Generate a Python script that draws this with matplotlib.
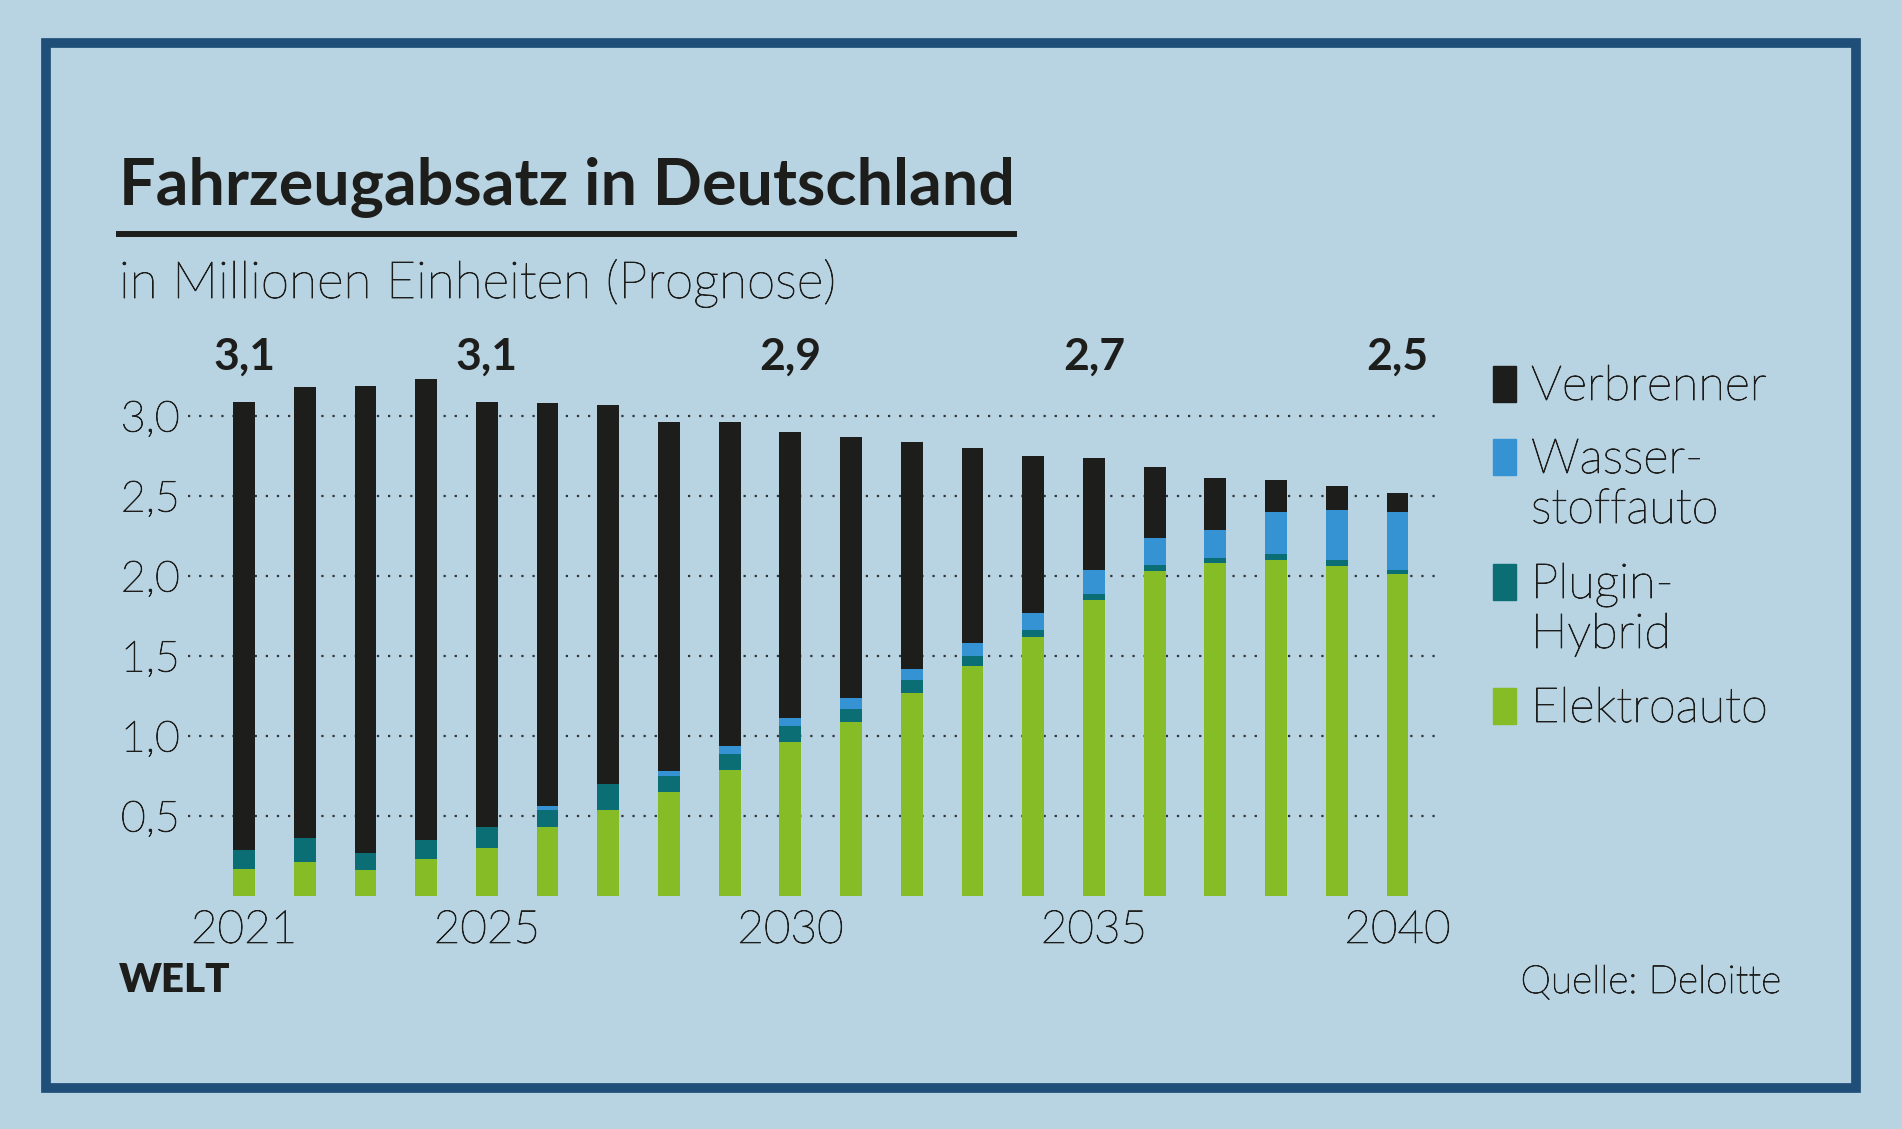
import matplotlib.pyplot as plt
import matplotlib.patheffects as pe
from matplotlib.patches import Rectangle
from matplotlib.lines import Line2D
import numpy as np

# Fahrzeugabsatz in Deutschland, Mio. Einheiten (Prognose, Deloitte)
years = list(range(2021, 2041))
elektro = [0.17, 0.21, 0.16, 0.23, 0.30, 0.43, 0.54, 0.65, 0.79, 0.96,
           1.09, 1.27, 1.44, 1.62, 1.85, 2.03, 2.08, 2.10, 2.06, 2.01]
plugin = [0.12, 0.15, 0.11, 0.12, 0.13, 0.11, 0.16, 0.10, 0.10, 0.10,
          0.08, 0.08, 0.06, 0.04, 0.035, 0.04, 0.03, 0.04, 0.04, 0.03]
wasser = [0.0, 0.0, 0.0, 0.0, 0.0, 0.02, 0.0, 0.03, 0.05, 0.05,
          0.07, 0.07, 0.08, 0.11, 0.15, 0.17, 0.18, 0.26, 0.31, 0.36]
verbrenner = [2.80, 2.82, 2.92, 2.88, 2.66, 2.52, 2.37, 2.18, 2.02, 1.79,
              1.63, 1.42, 1.22, 0.98, 0.70, 0.44, 0.32, 0.20, 0.15, 0.12]

label_years = [2021, 2025, 2030, 2035, 2040]
total_labels = ["3,1", "3,1", "2,9", "2,7", "2,5"]
y_ticks = [0.5, 1.0, 1.5, 2.0, 2.5, 3.0]
y_ticklabels = ["0,5", "1,0", "1,5", "2,0", "2,5", "3,0"]
legend_labels = ["Verbrenner", "Wasser-\nstoffauto", "Plugin-\nHybrid", "Elektroauto"]

bg = "#b8d3e1"
frame = "#1f4e78"
ink = "#1d1d1b"
c_verb = "#1d1d1b"
c_wass = "#3592d3"
c_plug = "#0b6e75"
c_elek = "#86bc25"

plt.rcParams['font.family'] = ['Lato', 'DejaVu Sans']

# light font, thickened a little
thin = dict(fontweight='light', color=ink,
            path_effects=[pe.withStroke(linewidth=0.6, foreground=ink)])

W, H = 1902, 1129
fig = plt.figure(figsize=(W / 100, H / 100), dpi=100, facecolor=bg)


def fx(px):
    return px / W


def fy(py):
    return 1 - py / H


# frame
fig.add_artist(Rectangle((fx(46), fy(1088)), fx(1856) - fx(46), fy(43) - fy(1088),
                         transform=fig.transFigure, fill=False,
                         edgecolor=frame, linewidth=7))

ax = fig.add_axes([fx(188), fy(896), fx(1443) - fx(188), (896 - 352) / H])
ax.set_facecolor('none')
x = np.arange(len(years))
bottom = np.zeros(len(years))
for vals, col in zip([elektro, plugin, wasser, verbrenner], [c_elek, c_plug, c_wass, c_verb]):
    ax.bar(x, vals, width=0.36, bottom=bottom, color=col, linewidth=0, zorder=3)
    bottom += np.array(vals)

ax.set_xlim(-0.923, 19.75)
ax.set_ylim(0, 3.4)
for s in ax.spines.values():
    s.set_visible(False)

ax.set_yticks(y_ticks)
ax.set_yticklabels(y_ticklabels, fontsize=31, **thin)
ax.yaxis.grid(True, linestyle=(0, (1, 4)), color='#333333', linewidth=1.6)
ax.set_axisbelow(True)
ax.tick_params(axis='y', length=0, pad=6)

tick_pos = [years.index(y) for y in label_years]
ax.set_xticks(tick_pos)
ax.set_xticklabels([str(y) for y in label_years], fontsize=33, **thin)
ax.tick_params(axis='x', length=0, pad=10)

for p, lab in zip(tick_pos, total_labels):
    ax.text(p, 3.29, lab, ha='center', va='baseline', fontsize=32,
            fontweight='bold', color=ink)

# title block
fig.text(fx(119), fy(205), "Fahrzeugabsatz in Deutschland", fontsize=46.5,
         fontweight='bold', color=ink, va='baseline')
fig.add_artist(Line2D([fx(119), fx(1014)], [fy(234), fy(234)], color=ink,
                      linewidth=4.3, transform=fig.transFigure))
fig.text(fx(119), fy(298), "in Millionen Einheiten (Prognose)", fontsize=37,
         va='baseline', **thin)

# legend
leg_base = [400, 473, 598, 722]
for lab, col, base in zip(legend_labels, [c_verb, c_wass, c_plug, c_elek], leg_base):
    fig.add_artist(Rectangle((fx(1493), fy(base + 2)), fx(23), 36 / H,
                             transform=fig.transFigure, color=col))
    for k, line in enumerate(lab.split("\n")):
        fig.text(fx(1531), fy(base + 50 * k), line, fontsize=35,
                 va='baseline', **thin)

fig.text(fx(119), fy(992), "WELT", fontsize=29, fontweight='heavy', color=ink, va='baseline')
fig.text(fx(1781), fy(993), "Quelle: Deloitte", fontsize=28,
         va='baseline', ha='right', **thin)

fig.savefig('out.png', dpi=100, facecolor=bg)
